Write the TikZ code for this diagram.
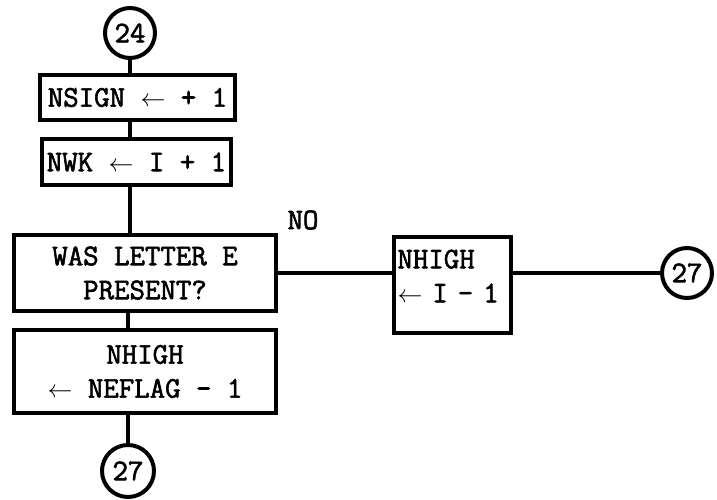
\documentclass[tikz,border=0pt]{standalone}
\usepackage{fontspec}
\setmonofont{Latin Modern Mono}[FakeBold=2]
\usetikzlibrary{positioning}

\begin{document}
\begin{tikzpicture}[x=1pt,y=-1pt,font=\ttfamily\fontsize{30}{34}\selectfont,
  box/.style={draw,line width=4pt,inner sep=2pt,align=center},
  conn/.style={circle,draw,line width=4pt,inner sep=0pt,minimum size=50pt},
  flow/.style={line width=4pt}]
\useasboundingbox (0,0) rectangle (717,499);
\node[conn] (c24) at (130,33) {24};
\node[box,minimum width=195pt,minimum height=45pt] (nsign) at (137.5,97.5) {NSIGN $\leftarrow$ + 1};
\node[box,minimum width=189pt,minimum height=46pt] (nwk) at (136.5,162) {NWK $\leftarrow$ I + 1};
\node[box,minimum width=262pt,minimum height=76pt] (was) at (145,273) {WAS LETTER E\\PRESENT?};
\node[box,minimum width=262pt,minimum height=83pt] (nhighb) at (145,371.5) {NHIGH\\$\leftarrow$ NEFLAG - 1};
\node[conn,minimum size=52pt] (c27b) at (128,471) {27};
\node[box,minimum width=117pt,minimum height=96pt,align=left,text width=110pt] (nhighr) at (452.5,285) {NHIGH\\$\leftarrow$ I - 1\\[-16pt]\mbox{}};
\node[conn] (c27r) at (687,273) {27};
\node (no) at (303,220) {NO};
\draw[flow] (c24.south) -- (c24.south |- nsign.north);
\draw[flow] (c24 |- nsign.south) -- (c24 |- nwk.north);
\draw[flow] (c24 |- nwk.south) -- (c24 |- was.north);
\draw[flow] (c27b |- was.south) -- (c27b |- nhighb.north);
\draw[flow] (c27b |- nhighb.south) -- (c27b.north);
\draw[flow] (was.east) -- (was.east -| nhighr.west);
\draw[flow] (nhighr.east |- c27r) -- (c27r.west);
\end{tikzpicture}
\end{document}
